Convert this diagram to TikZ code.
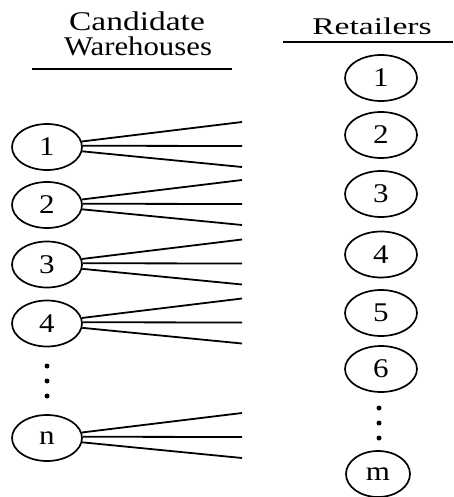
\documentclass[tikz,border=0pt]{standalone}
\usepackage{fontspec}
\setmainfont{Liberation Serif}
\usetikzlibrary{shapes.geometric}

\newcommand{\wide}[2]{\scalebox{#1}[1]{#2}}

\begin{document}
\begin{tikzpicture}[x=1pt, y=-1pt,
  site/.style={draw, ellipse, line width=1.7pt, inner sep=0pt,
               minimum width=70pt, minimum height=46pt,
               font=\fontsize{27}{27}\selectfont},
  shop/.style={site, minimum width=72pt},
  link/.style={line width=1.8pt},
  rule/.style={line width=2pt},
  head/.style={anchor=base, inner sep=0pt, font=\fontsize{27}{27}\selectfont},
  dot/.style={circle, fill=black, inner sep=0pt, minimum size=5pt}]
\useasboundingbox (0,0) rectangle (453,497);

% column headings
\node[head] (hcand) at (137,31) {\wide{1.24}{Candidate}};
\node[head] (hware) at (138,56) {\wide{1.14}{Warehouses}};
\draw[rule] (32,69) -- (232,69);
\node[head, font=\fontsize{24}{24}\selectfont] (hret) at (372,35) {\wide{1.4}{Retailers}};
\draw[rule] (283,42) -- (453,42);

% candidate warehouses, each with three outgoing links
\foreach \lab/\cy in {1/147, 2/205, 3/264.5, 4/323.5, n/438} {
  \node[site] (w\lab) at (47,\cy) {\wide{1.15}{\lab}};
  \coordinate (w\lab t) at (242,\cy-25);
  \coordinate (w\lab m) at (242,\cy-1);
  \coordinate (w\lab b) at (242,\cy+20);
  \draw[link] (w\lab.9) -- (w\lab t);
  \draw[link] (w\lab.2) -- (w\lab m);
  \draw[link] (w\lab.-7) -- (w\lab b);
}
\node[dot] (wd1) at (47,366) {};
\node[dot] (wd2) at (47,381) {};
\node[dot] (wd3) at (47,396) {};

% retailers
\foreach \lab/\cy in {1/78, 2/135, 3/194, 4/254.5, 5/313, 6/369} {
  \node[shop] (r\lab) at (381,\cy) {\wide{1.15}{\lab}};
}
\node[shop, minimum width=64pt] (rm) at (378,474) {\wide{1.15}{m}};
\node[dot] (rd1) at (379,408) {};
\node[dot] (rd2) at (379,423) {};
\node[dot] (rd3) at (379,438) {};
\end{tikzpicture}
\end{document}
